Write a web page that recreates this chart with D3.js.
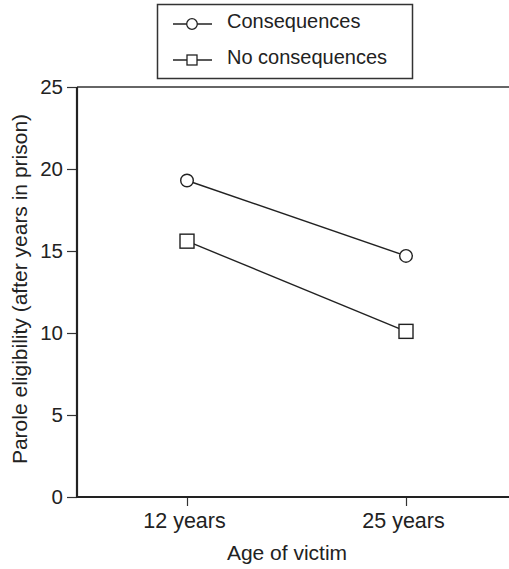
<!DOCTYPE html>
<html>
<head>
<meta charset="utf-8">
<script src="https://cdn.jsdelivr.net/npm/d3@7"></script>
<style>
  body { margin: 0; background: #fff; }
  svg text { font-family: "Liberation Sans", Arial, sans-serif; fill: #222; }
</style>
</head>
<body>
<div class="container"></div>
<script>
const WIDTH = 509,
    HEIGHT = 569,
    LEFT = 77,
    TOP = 87,
    BOTTOM = 497,
    RIGHT = 509;

const categories = ['12 years', '25 years'];
const consequences = [19.3, 14.7];
const noConsequences = [15.6, 10.1];
const yTicks = [0, 5, 10, 15, 20, 25];
const seriesNames = ['Consequences', 'No consequences'];

const xScale = d3.scalePoint()
    .domain(categories)
    .range([187, 406]);

const yScale = d3.scaleLinear()
    .domain([0, 25])
    .range([BOTTOM, TOP]);

const svg = d3.select('.container').append('svg')
    .attr('width', WIDTH)
    .attr('height', HEIGHT);

// frame lines
svg.append('line')
    .attr('x1', LEFT).attr('x2', RIGHT)
    .attr('y1', TOP).attr('y2', TOP)
    .attr('stroke', '#333').attr('stroke-width', 1.3);

var yAxis = d3.axisLeft(yScale).tickValues(yTicks).tickSize(10).tickPadding(4);
var gy = svg.append('g')
    .attr('transform', `translate(${LEFT},0)`)
    .call(yAxis);
gy.select('.domain').remove();
gy.selectAll('.tick line').attr('stroke', '#333').attr('stroke-width', 1.2);
gy.selectAll('.tick text').attr('font-size', 20.5).attr('fill', '#222')
    .attr('font-family', '"Liberation Sans", Arial, sans-serif');

var xAxis = d3.axisBottom(xScale).tickSize(9).tickPadding(7);
var gx = svg.append('g')
    .attr('transform', `translate(0,${BOTTOM})`)
    .call(xAxis);
gx.select('.domain').remove();
gx.selectAll('.tick line').attr('stroke', '#333').attr('stroke-width', 1.2);
gx.selectAll('.tick text').attr('font-size', 21.5).attr('fill', '#222')
    .attr('dx', -3)
    .attr('font-family', '"Liberation Sans", Arial, sans-serif');

svg.append('line')
    .attr('x1', LEFT).attr('x2', LEFT)
    .attr('y1', TOP).attr('y2', BOTTOM + 1)
    .attr('stroke', '#222').attr('stroke-width', 2.2);
svg.append('line')
    .attr('x1', LEFT - 1).attr('x2', RIGHT)
    .attr('y1', BOTTOM).attr('y2', BOTTOM)
    .attr('stroke', '#222').attr('stroke-width', 2.2);

// axis titles
svg.append('text')
    .attr('x', 287).attr('y', 560)
    .attr('text-anchor', 'middle')
    .attr('font-size', 21)
    .text('Age of victim');

svg.append('text')
    .attr('transform', 'translate(27,289) rotate(-90)')
    .attr('text-anchor', 'middle')
    .attr('font-size', 21)
    .text('Parole eligibility (after years in prison)');

// series
var line = d3.line()
    .x((d, i) => xScale(categories[i]))
    .y((d) => yScale(d));

var addSeries = (values, shape) => {
    var g = svg.append('g');
    g.append('path')
        .attr('d', line(values))
        .attr('fill', 'none')
        .attr('stroke', '#222')
        .attr('stroke-width', 1.4);
    if (shape === 'circle') {
        g.selectAll('circle').data(values).enter().append('circle')
            .attr('cx', (d, i) => xScale(categories[i]))
            .attr('cy', (d) => yScale(d))
            .attr('r', 6.3)
            .attr('fill', '#fff')
            .attr('stroke', '#222')
            .attr('stroke-width', 1.4);
    } else {
        g.selectAll('rect').data(values).enter().append('rect')
            .attr('x', (d, i) => xScale(categories[i]) - 7)
            .attr('y', (d) => yScale(d) - 7)
            .attr('width', 14)
            .attr('height', 14)
            .attr('fill', '#fff')
            .attr('stroke', '#222')
            .attr('stroke-width', 1.4);
    }
}

addSeries(consequences, 'circle');
addSeries(noConsequences, 'square');

// legend
var legend = svg.append('g');
legend.append('rect')
    .attr('x', 157.5).attr('y', 4.5)
    .attr('width', 255).attr('height', 74)
    .attr('fill', '#fff')
    .attr('stroke', '#333')
    .attr('stroke-width', 1.5);

seriesNames.forEach((name, i) => {
    var cy = 24 + i * 36;
    legend.append('line')
        .attr('x1', 173).attr('x2', 212)
        .attr('y1', cy).attr('y2', cy)
        .attr('stroke', '#222').attr('stroke-width', 1.3);
    if (i === 0) {
        legend.append('circle')
            .attr('cx', 192).attr('cy', cy).attr('r', 5.3)
            .attr('fill', '#fff').attr('stroke', '#222').attr('stroke-width', 1.3);
    } else {
        legend.append('rect')
            .attr('x', 187).attr('y', cy - 5).attr('width', 10).attr('height', 10)
            .attr('fill', '#fff').attr('stroke', '#222').attr('stroke-width', 1.3);
    }
    legend.append('text')
        .attr('x', 227).attr('y', cy + 4)
        .attr('font-size', 20)
        .text(name);
});
</script>
</body>
</html>
